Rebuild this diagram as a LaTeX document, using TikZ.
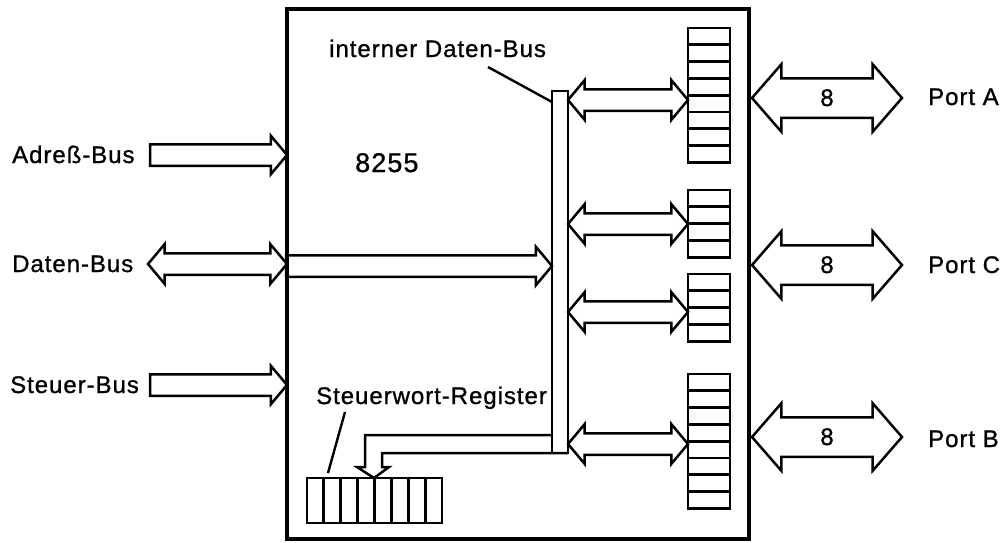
\documentclass[tikz,border=0pt]{standalone}
\usepackage{fontspec}
\setmainfont{Liberation Sans}[LetterSpace=4.0, FakeBold=1]
\usetikzlibrary{shapes.arrows}

\tikzset{
  bus/.style={draw, line width=2.5pt, outer sep=0pt, inner xsep=0pt, minimum width=0pt},
  inbus/.style={bus, single arrow, single arrow tip angle=100, inner ysep=9.5pt, single arrow head extend=8.5pt},
  iobus/.style={bus, double arrow, double arrow tip angle=100, inner ysep=9.5pt, double arrow head extend=9pt},
  portbus/.style={bus, double arrow, double arrow tip angle=98, inner ysep=10.5pt, double arrow head extend=14pt, text height=16pt, text depth=0pt},
  reg/.style={draw, line width=2.8pt, inner sep=0pt, outer sep=0pt, anchor=north west},
  lbl/.style={inner sep=0pt, anchor=base west},
  leader/.style={line width=2.4pt},
}

\begin{document}
\begin{tikzpicture}[x=1pt,y=-1pt,font=\fontsize{24}{29}\selectfont]
\useasboundingbox (0,0) rectangle (1007,542);
%8255 chip
\draw[line width=4pt] (287,9) rectangle (749,539);
\node[lbl, font=\fontsize{27}{32}\selectfont] (chip) at (355,172) {8255};
%Left side buses
\node[lbl] (adr) at (12,163) {Adreß-Bus};
\node[inbus, minimum height=137pt, anchor=tip] (adrbus) at (287,155) {};
\node[lbl] (dat) at (12,272) {Daten-Bus};
\node[iobus, minimum height=139pt] (datbus) at (217.5,264) {};
\node[lbl] (st) at (10,393) {Steuer-Bus};
\node[inbus, minimum height=137pt, anchor=tip] (stbus) at (287,385) {};
%Internal data bus
\node[reg, line width=2.5pt, minimum width=16pt, minimum height=362pt] (idb) at (552,91) {};
\node[inbus, minimum height=266pt, anchor=tip] (datin) at (idb.west |- 0,266) {};
\node[lbl] (idbl) at (329,57) {interner Daten-Bus};
\draw[leader] (488,67) -- (idb.west |- 0,102);
%Port registers
\foreach \name/\top/\n in {regA/28/8, regCu/190/4, regCl/274/4, regB/374/8}{
  \node[reg, minimum width=42pt, minimum height={\n*16.8pt}] (\name) at (688,\top) {};
  \foreach \i in {1,...,\n} \draw[line width=2.8pt] (688,\top+16.8*\i) -- ++(42,0);
}
\foreach \name/\y in {ioA/100, ioCu/224, ioCl/312, ioB/444}
  \node[iobus, minimum height=120pt] (\name) at (628,\y) {};
%Ports
\node[portbus, minimum height=150pt] (portA) at (827,98) {8};
\node[portbus, minimum height=150pt] (portC) at (827,265) {8};
\node[portbus, minimum height=150pt] (portB) at (827,437) {8};
\node[lbl] (pA) at (928,105) {Port A};
\node[lbl] (pC) at (928,273) {Port C};
\node[lbl] (pB) at (928,447) {Port B};
%Steuerwort register
\node[reg, minimum width=135pt, minimum height=45pt] (sreg) at (307,478) {};
\foreach \i in {1,...,7} \draw[line width=2.8pt] (307+16.875*\i,478) -- ++(0,45);
\node[lbl] (sregl) at (316,404) {Steuerwort-Register};
\draw[leader] (345,412) -- (328,473);
\draw[line width=2.5pt] (idb.west |- 0,435) -- (365,435) -- (365,467) -- (357,467)
  -- (sreg.north -| 374,0) -- (389,467) -- (382,467) -- (382,453) -- (idb.south east);
\end{tikzpicture}
\end{document}
